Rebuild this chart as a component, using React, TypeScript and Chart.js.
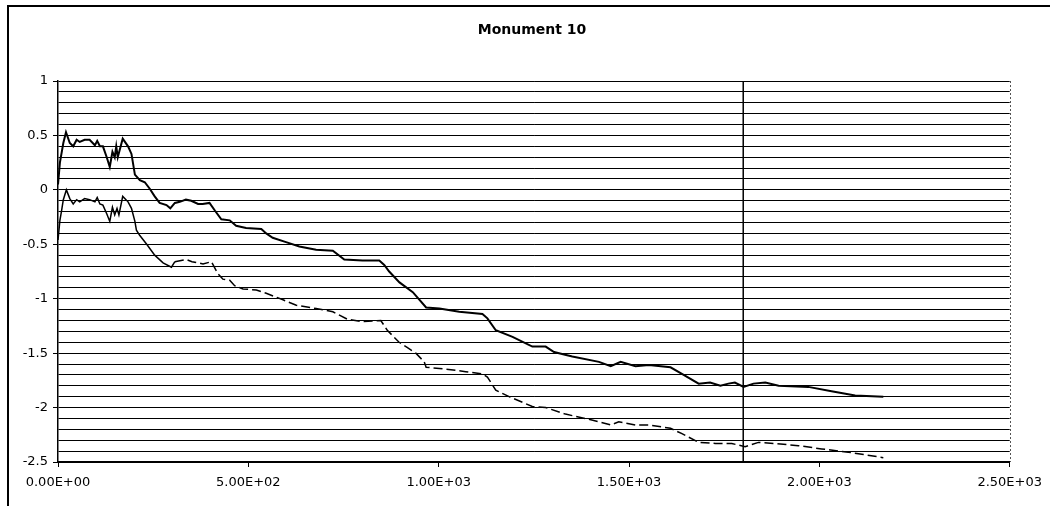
import React, { useEffect, useRef } from "react";
import { Chart, registerables } from "chart.js";

Chart.register(...registerables);

const chartTitle = "Monument 10";

const upperX = [0, 5, 14, 21, 31, 40, 49, 57, 70, 83, 97, 103, 110, 118, 128, 136, 143, 149, 153, 157, 170, 184, 193, 202, 215, 228, 241, 254, 267, 285, 295, 307, 320, 336, 350, 368, 380, 398, 412, 429, 451, 468, 494, 534, 547, 564, 599, 634, 678, 722, 752, 800, 844, 857, 870, 897, 932, 967, 1002, 1054, 1115, 1128, 1150, 1194, 1246, 1281, 1303, 1351, 1421, 1452, 1478, 1517, 1552, 1609, 1639, 1683, 1713, 1740, 1761, 1778, 1801, 1827, 1858, 1893, 1971, 2032, 2094, 2168];
const upperY = [0.05, 0.25, 0.43, 0.53, 0.43, 0.40, 0.46, 0.44, 0.46, 0.46, 0.41, 0.45, 0.40, 0.40, 0.30, 0.21, 0.35, 0.30, 0.40, 0.30, 0.47, 0.40, 0.33, 0.14, 0.09, 0.07, 0.01, -0.06, -0.12, -0.14, -0.17, -0.12, -0.11, -0.09, -0.10, -0.13, -0.13, -0.12, -0.19, -0.27, -0.28, -0.33, -0.35, -0.36, -0.40, -0.44, -0.48, -0.52, -0.55, -0.56, -0.64, -0.65, -0.65, -0.69, -0.75, -0.85, -0.94, -1.08, -1.09, -1.12, -1.14, -1.18, -1.29, -1.35, -1.44, -1.44, -1.49, -1.53, -1.58, -1.62, -1.58, -1.62, -1.61, -1.63, -1.69, -1.78, -1.77, -1.80, -1.78, -1.77, -1.81, -1.78, -1.77, -1.80, -1.81, -1.85, -1.89, -1.90];

const lowerX = [0, 5, 9, 14, 22, 31, 40, 49, 57, 70, 83, 97, 103, 110, 118, 128, 136, 143, 149, 155, 160, 170, 184, 193, 202, 206, 215, 233, 254, 276, 298, 307, 337, 352, 381, 403, 420, 433, 451, 464, 486, 521, 547, 591, 626, 678, 722, 761, 800, 848, 865, 896, 918, 940, 962, 967, 1002, 1071, 1115, 1128, 1150, 1185, 1246, 1281, 1333, 1385, 1421, 1452, 1473, 1517, 1552, 1609, 1639, 1683, 1727, 1770, 1805, 1840, 1884, 1945, 2006, 2076, 2168];
const lowerY = [-0.46, -0.28, -0.20, -0.09, 0.00, -0.08, -0.13, -0.09, -0.11, -0.08, -0.09, -0.11, -0.07, -0.13, -0.14, -0.22, -0.29, -0.16, -0.23, -0.17, -0.23, -0.06, -0.11, -0.17, -0.29, -0.37, -0.42, -0.50, -0.60, -0.67, -0.71, -0.66, -0.64, -0.66, -0.68, -0.66, -0.77, -0.82, -0.83, -0.88, -0.91, -0.92, -0.95, -1.01, -1.06, -1.09, -1.12, -1.19, -1.21, -1.20, -1.29, -1.40, -1.45, -1.50, -1.58, -1.63, -1.64, -1.67, -1.69, -1.72, -1.84, -1.90, -1.99, -2.00, -2.06, -2.10, -2.13, -2.16, -2.13, -2.16, -2.16, -2.19, -2.24, -2.32, -2.33, -2.33, -2.36, -2.32, -2.33, -2.35, -2.38, -2.41, -2.46];

const markerX = [1800, 1800];
const markerY = [-2.5, 1];

const xMin = 0;
const xMax = 2500;
const xStep = 500;
const yMin = -2.5;
const yMax = 1;
const yStep = 0.1;

function fmtExp(v: number): string {
  const [m, e] = v.toExponential(2).split("e");
  const sign = e[0];
  const digits = e.slice(1).padStart(2, "0");
  return m + "E" + sign + digits;
}

function isMajor(v: number): boolean {
  return Math.round(v * 10) % 5 === 0;
}

const framePlugin = {
  id: "frame",
  beforeDraw(chart: any) {
    const ctx = chart.ctx;
    ctx.save();
    ctx.fillStyle = "#fff";
    ctx.fillRect(0, 0, chart.width, chart.height);
    ctx.strokeStyle = "#000";
    ctx.lineWidth = 2;
    ctx.beginPath();
    ctx.moveTo(8, chart.height + 2);
    ctx.lineTo(8, 6);
    ctx.lineTo(chart.width + 2, 6);
    ctx.stroke();
    ctx.font = "bold 14px 'DejaVu Sans'";
    ctx.fillStyle = "#000";
    ctx.textAlign = "center";
    ctx.textBaseline = "middle";
    ctx.fillText(chartTitle, 532, 30);
    ctx.restore();
  },
  afterDraw(chart: any) {
    const ctx = chart.ctx;
    const a = chart.chartArea;
    ctx.save();
    ctx.strokeStyle = "#555";
    ctx.lineWidth = 1;
    ctx.setLineDash([2, 2]);
    ctx.beginPath();
    ctx.moveTo(Math.round(a.right) + 0.5, a.top);
    ctx.lineTo(Math.round(a.right) + 0.5, a.bottom);
    ctx.stroke();
    ctx.restore();
  },
};

export default function App() {
  const ref = useRef<HTMLCanvasElement | null>(null);

  useEffect(() => {
    if (!ref.current) return;
    const chart = new Chart(ref.current, {
      type: "line",
      data: {
        datasets: [
          {
            label: "upper",
            data: upperX.map((x, i) => ({ x, y: upperY[i] })),
            borderColor: "#000",
            borderWidth: 2,
            pointRadius: 0,
            tension: 0,
          },
          {
            label: "lower",
            data: lowerX.map((x, i) => ({ x, y: lowerY[i] })),
            borderColor: "#000",
            borderWidth: 1.5,
            pointRadius: 0,
            tension: 0,
            segment: {
              borderDash: (c: any) => (c.p0.parsed.x >= 300 ? [9, 4] : undefined),
            },
          },
          {
            label: "marker",
            data: markerX.map((x, i) => ({ x, y: markerY[i] })),
            borderColor: "#000",
            borderWidth: 1.5,
            pointRadius: 0,
          },
        ],
      },
      options: {
        responsive: false,
        animation: false,
        devicePixelRatio: 1,
        layout: { padding: { top: 81, right: 37, left: 0, bottom: 0 } },
        plugins: {
          legend: { display: false },
          tooltip: { enabled: false },
          title: { display: false },
        },
        scales: {
          x: {
            type: "linear",
            min: xMin,
            max: xMax,
            afterFit: (s: any) => {
              s.height = 44;
            },
            border: { display: true, color: "#000", width: 2 },
            grid: {
              drawOnChartArea: false,
              drawTicks: true,
              tickLength: 5,
              color: "#000",
            },
            ticks: {
              stepSize: xStep,
              autoSkip: false,
              maxRotation: 0,
              padding: 8,
              color: "#000",
              font: { family: "'DejaVu Sans'", size: 13 },
              callback: (v: any) => fmtExp(Number(v)),
            },
          },
          y: {
            type: "linear",
            min: yMin,
            max: yMax,
            afterFit: (s: any) => {
              s.width = 58;
            },
            border: { display: true, color: "#000", width: 1.5 },
            grid: {
              color: "#000",
              lineWidth: 1,
              tickLength: 5,
              tickColor: (c: any) => (c.tick && isMajor(c.tick.value) ? "#000" : "rgba(0,0,0,0)"),
            },
            ticks: {
              stepSize: yStep,
              autoSkip: false,
              maxTicksLimit: 100,
              padding: 5,
              color: "#000",
              font: { family: "'DejaVu Sans'", size: 13 },
              callback: (v: any) => {
                const n = Number(v);
                if (!isMajor(n)) return "";
                const r = Math.round(n * 10) / 10;
                return String(r);
              },
            },
          },
        },
      },
      plugins: [framePlugin],
    });
    return () => chart.destroy();
  }, []);

  return (
    <div style={{ position: "absolute", left: 0, top: 0, width: 1050, height: 506, background: "#fff" }}>
      <canvas ref={ref} width={1050} height={506} style={{ width: 1050, height: 506, display: "block" }} />
    </div>
  );
}
